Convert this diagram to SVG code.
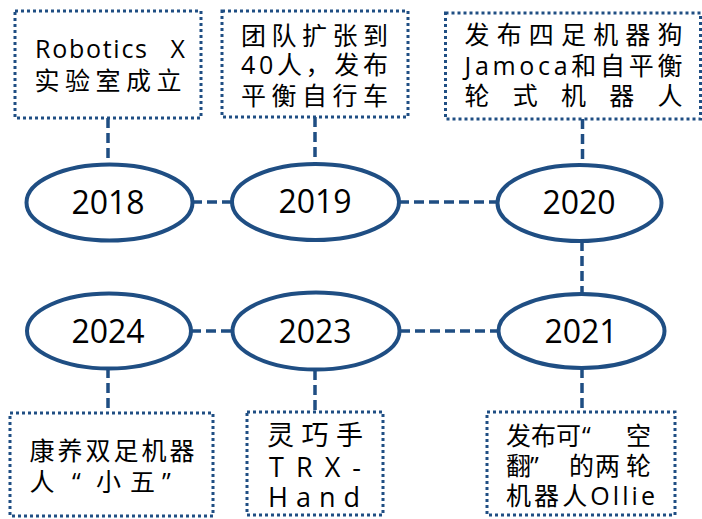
<svg xmlns="http://www.w3.org/2000/svg" width="702" height="519" viewBox="0 0 702 519">
<style>
.box{fill:#fff;stroke:#1F4E83;stroke-width:3;stroke-dasharray:3 3}
.node{fill:#fff;stroke:#1F4E83;stroke-width:4}
.con{stroke:#1F4E83;stroke-width:3.5;stroke-dasharray:10 5;fill:none}
.yr{font-family:"Open Sans","Noto Sans CJK SC",sans-serif;font-size:32px;fill:#000;text-anchor:middle}
.t{font-family:"Open Sans","Noto Sans CJK SC",sans-serif;font-size:25px;fill:#000}
.t2{font-family:"Open Sans","Noto Sans CJK SC",sans-serif;font-size:27px;fill:#000}
</style>
<rect width="702" height="519" fill="#fff"/>
<g id="connectors">
<line class="con" x1="108" y1="118" x2="108" y2="164.5"/>
<line class="con" x1="315" y1="117" x2="315" y2="164"/>
<line class="con" x1="582.5" y1="119" x2="582.5" y2="165"/>
<line class="con" x1="192" y1="202" x2="232" y2="202"/>
<line class="con" x1="399" y1="202" x2="497" y2="202"/>
<line class="con" x1="582" y1="241" x2="582" y2="294"/>
<line class="con" x1="191" y1="331" x2="232" y2="331"/>
<line class="con" x1="400" y1="331" x2="498" y2="331"/>
<line class="con" x1="108" y1="368" x2="108" y2="413"/>
<line class="con" x1="315" y1="370" x2="315" y2="412"/>
<line class="con" x1="582" y1="368" x2="582" y2="412"/>
</g>
<g id="n2018">
<ellipse class="node" cx="109.5" cy="202.5" rx="83" ry="38"/>
<text class="yr" x="108" y="213.5">2018</text>
</g>
<g id="n2019">
<ellipse class="node" cx="315.5" cy="202" rx="83.5" ry="38"/>
<text class="yr" x="315" y="213">2019</text>
</g>
<g id="n2020">
<ellipse class="node" cx="579.5" cy="203" rx="82" ry="38"/>
<text class="yr" x="579" y="213.5">2020</text>
</g>
<g id="n2024">
<ellipse class="node" cx="109" cy="331" rx="82" ry="37.5"/>
<text class="yr" x="108" y="343">2024</text>
</g>
<g id="n2023">
<ellipse class="node" cx="316" cy="331" rx="83.5" ry="38.5"/>
<text class="yr" x="315" y="343">2023</text>
</g>
<g id="n2021">
<ellipse class="node" cx="581.5" cy="331" rx="83" ry="37"/>
<text class="yr" x="581" y="343">2021</text>
</g>
<g id="b2018">
<rect class="box" x="15" y="11" width="186" height="107"/>
<text class="t"><tspan x="35" y="58" textLength="112" lengthAdjust="spacing">Robotics</tspan><tspan x="164" y="58"> X</tspan><tspan x="34.5" y="90" textLength="147" lengthAdjust="spacing">实验室成立</tspan></text>
</g>
<g id="b2019">
<rect class="box" x="222" y="11" width="186" height="106"/>
<text class="t"><tspan x="241" y="44.5" textLength="147" lengthAdjust="spacing">团队扩张到</tspan><tspan x="241" y="74" textLength="147" lengthAdjust="spacing">40人，发布</tspan><tspan x="241" y="104.5" textLength="147" lengthAdjust="spacing">平衡自行车</tspan></text>
</g>
<g id="b2020">
<rect class="box" x="445.5" y="13" width="255" height="106"/>
<text class="t"><tspan x="464.5" y="44" textLength="218" lengthAdjust="spacing">发布四足机器狗</tspan><tspan x="464.5" y="74.5" textLength="218" lengthAdjust="spacing">Jamoca和自平衡</tspan><tspan x="464.5" y="105" textLength="218" lengthAdjust="spacing">轮式机器人</tspan></text>
</g>
<g id="b2024">
<rect class="box" x="10" y="413" width="203" height="103"/>
<text class="t"><tspan x="29.5" y="460" textLength="165" lengthAdjust="spacing">康养双足机器</tspan><tspan x="29.5 72 96 130 162" y="491">人“小五”</tspan></text>
</g>
<g id="b2023">
<rect class="box" x="247" y="412" width="136" height="103"/>
<text class="t2"><tspan x="267" y="445" textLength="96" lengthAdjust="spacing">灵巧手</tspan><tspan x="269" y="476.5" textLength="92" lengthAdjust="spacing">TRX-</tspan><tspan x="268" y="506.5" textLength="92" lengthAdjust="spacing">Hand</tspan></text>
</g>
<g id="b2021">
<rect class="box" x="487" y="412" width="188" height="103"/>
<text class="t"><tspan x="506 531 556 582 626" y="445">发布可“空</tspan><tspan x="506 530 569 595 626" y="475">翻”的两轮</tspan><tspan x="506" y="505" textLength="149" lengthAdjust="spacing">机器人Ollie</tspan></text>
</g>
</svg>
